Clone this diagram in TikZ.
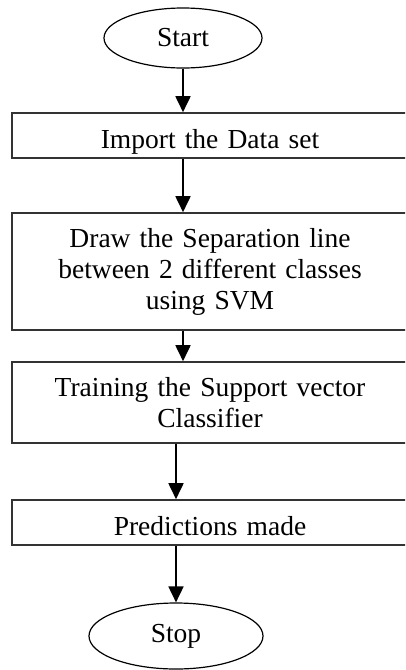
\documentclass[tikz,border=0pt]{standalone}
\usepackage{fontspec}
\setmainfont{Liberation Serif}
\usetikzlibrary{shapes.geometric, arrows.meta}

\tikzset{
  stepbox/.style={draw=black!80, line width=1.6pt, text width=380pt, inner sep=8pt,
    align=center, font=\fontsize{27.5}{31}\selectfont},
  oneline/.style={text height=25pt, text depth=0pt},
  terminal/.style={ellipse, draw, line width=1.2pt, inner sep=0pt,
    font=\fontsize{27.5}{31}\selectfont},
  flow/.style={-{Triangle[length=16pt,width=15pt]}, line width=1.8pt}
}

\begin{document}
\begin{tikzpicture}[x=1pt, y=-1pt]
  \useasboundingbox (0,0) rectangle (405,670);
  \clip (0,0) rectangle (405,670);
  \node[terminal, minimum width=158pt, minimum height=60pt] (start) at (183,38) {Start};
  \node[stepbox, oneline, minimum height=45pt] (import) at (210,135.5) {Import the Data set};
  \node[stepbox, minimum height=117pt] (separate) at (210,271.5) {Draw the Separation line\\ between 2 different classes\\ using SVM};
  \node[stepbox, minimum height=81pt] (train) at (210,402.5) {Training the Support vector\\ Classifier};
  \node[stepbox, oneline, minimum height=45pt] (predict) at (210,522.5) {Predictions made};
  \node[terminal, minimum width=174pt, minimum height=66pt] (stop) at (176,636) {Stop};
  \draw[flow] (start.south) -- (start.south |- import.north);
  \draw[flow] (import.south -| start.south) -- (separate.north -| start.south);
  \draw[flow] (separate.south -| start.south) -- (train.north -| start.south);
  \draw[flow] (train.south -| stop.north) -- (predict.north -| stop.north);
  \draw[flow] (predict.south -| stop.north) -- (stop.north);
  % \draw[help lines] (0,0) grid (405,670);
\end{tikzpicture}
\end{document}
